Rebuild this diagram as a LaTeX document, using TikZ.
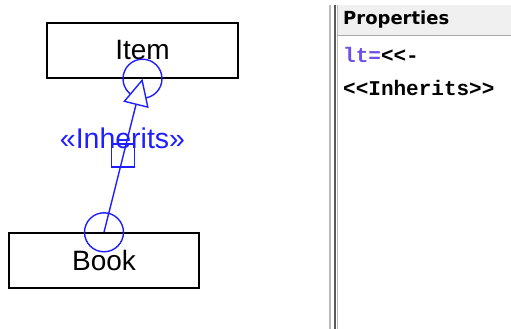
\documentclass[tikz,border=0pt]{standalone}
\usepackage{fontspec}
\setmainfont{Liberation Sans}
\newfontfamily\hdrfont{DejaVu Sans}
\newfontfamily\codefont{Liberation Mono}
\usetikzlibrary{arrows.meta,calc}
\definecolor{umlblue}{RGB}{30,30,255}
\definecolor{ltcol}{RGB}{110,80,230}
\definecolor{hdrbg}{RGB}{240,240,240}
\definecolor{hdrline}{RGB}{170,170,170}
\definecolor{sepdark}{RGB}{90,90,90}
\definecolor{seplight}{RGB}{185,185,185}
\begin{document}
\begin{tikzpicture}[x=1pt,y=-1pt,
  classbox/.style={draw=black,line width=1.4pt,minimum width=191pt,minimum height=55pt,inner sep=0pt,font=\fontsize{28}{30}\selectfont},
  rel/.style={draw=umlblue,line width=1.4pt},
  codeline/.style={anchor=base west,inner sep=0pt,font=\codefont\bfseries\fontsize{21}{23}\selectfont}]
\useasboundingbox (0,0) rectangle (511,329);
% diagram
\node[classbox] (item) at (142.5,50.5) {Item};
\node[classbox,minimum width=190pt] (book) at (104,260.5) {Book};
\draw[rel] (book.north) circle (19.5);
\draw[rel] (item.south) circle (19.5);
\draw[rel,-{Triangle[length=27pt,width=26pt,fill=white,line width=1.4pt]}] (book.north) -- (item.south);
\node[rel,draw,minimum size=23pt,inner sep=0pt] (sq) at ($(book.north)!0.5!(item.south)$) {};
\node[anchor=base,inner sep=0pt,text=umlblue,font=\fontsize{28.5}{30}\selectfont] (lbl) at (122.5,148) {«Inherits»};
% properties panel
\fill[hdrbg] (338,5) rectangle (511,36);
\draw[hdrline,line width=1pt] (338,36) -- (511,36);
\draw[seplight,line width=1.5pt] (330,5) -- (330,329);
\draw[sepdark,line width=2pt] (335,5) -- (335,329);
\draw[seplight,line width=1pt] (337.5,5) -- (337.5,329);
\node[anchor=base west,inner sep=0pt,font=\hdrfont\bfseries\fontsize{18}{20}\selectfont] (hdr) at (343,25) {Properties};
\node[codeline] (l1) at (343,63) {\textcolor{ltcol}{lt=}<<-};
\node[codeline] (l2) at (343,95) {<<Inherits>>};
\end{tikzpicture}
\end{document}
